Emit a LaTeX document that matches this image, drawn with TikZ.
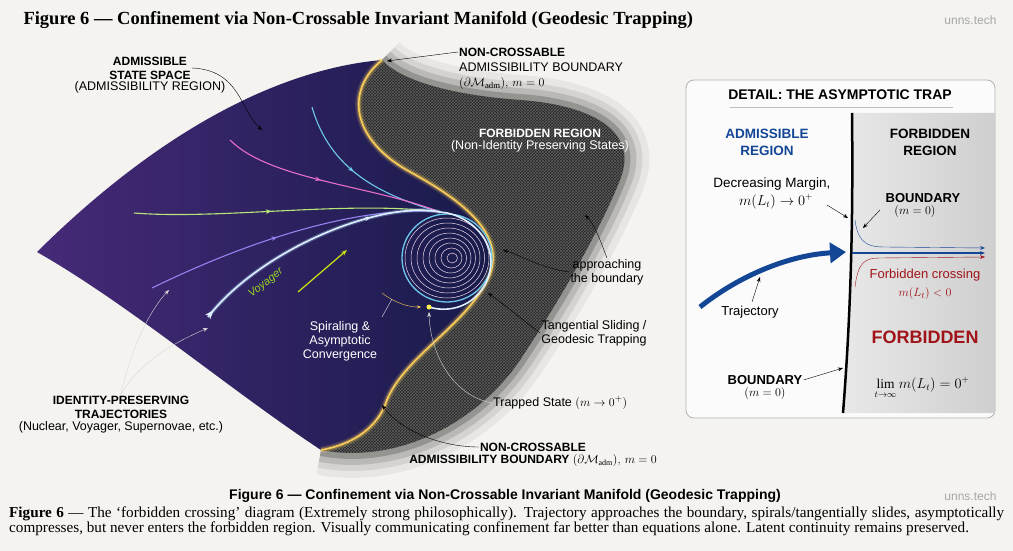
\documentclass[tikz,border=0pt]{standalone}
\usepackage{fontspec}
\setmainfont{Liberation Serif}
\setsansfont{Liberation Sans}
\usepackage{amsmath}
\usetikzlibrary{arrows.meta,calc,decorations.markings,patterns,positioning}
\definecolor{paper}{RGB}{244,243,239}
\definecolor{sheetL}{RGB}{70,42,120}
\definecolor{sheetR}{RGB}{22,26,72}
\definecolor{gold}{RGB}{250,205,90}
\definecolor{trcyan}{RGB}{110,200,235}
\definecolor{trpink}{RGB}{230,110,200}
\definecolor{trgreen}{RGB}{185,230,120}
\definecolor{trpurple}{RGB}{150,130,240}
\definecolor{voyblue}{RGB}{170,215,255}
\definecolor{dblue}{RGB}{20,70,150}
\definecolor{dred}{RGB}{160,20,25}
\tikzset{
  lbl/.style={font=\sffamily\fontsize{12.5}{14}\selectfont, align=center, inner sep=1pt},
  lblb/.style={lbl, font=\sffamily\bfseries\fontsize{12}{14}\selectfont},
  callout/.style={-{Stealth[length=5pt]}, black, thin},
  wcallout/.style={-{Stealth[length=5pt]}, white!85!black, thin},
  traj/.style={line width=1.1pt, postaction={decorate}, decoration={markings,
      mark=at position 0.45 with {\arrow{Stealth[length=6pt]}}}},
}
\begin{document}
\begin{tikzpicture}[x=1pt,y=-1pt]
\fill[paper] (0,0) rectangle (1013,551);
\useasboundingbox (0,0) rectangle (1013,551);

% title and watermark
\node[anchor=west, font=\bfseries\fontsize{18.5}{20}\selectfont] (title) at (20,20)
  {Figure 6 --- Confinement via Non-Crossable Invariant Manifold (Geodesic Trapping)};
\node[anchor=east, font=\sffamily\fontsize{12}{13}\selectfont, text=gray!70] (wm1) at (1000,20) {unns.tech};
\node[anchor=east, font=\sffamily\fontsize{12}{13}\selectfont, text=gray!70] (wm2) at (1000,496) {unns.tech};

% forbidden region
\coordinate (btop) at (382,60);
\coordinate (bbot) at (321,450);
\foreach \w/\o in {50/0.05,36/0.08,24/0.12,12/0.2}{
  \draw[black, line width=\w pt, opacity=\o, line join=round]
    (btop) .. controls (400,80) and (450,95) .. (520,100) .. controls (590,105) and (640,130) .. (620,180)
    .. controls (600,230) and (560,300) .. (520,360) .. controls (480,420) and (400,465) .. (bbot);
}
\fill[black!85]
  (btop) .. controls (400,80) and (450,95) .. (520,100) .. controls (590,105) and (640,130) .. (620,180)
  .. controls (600,230) and (560,300) .. (520,360) .. controls (480,420) and (400,465) .. (bbot)
  .. controls (350,445) and (375,430) .. (385,405) .. controls (400,360) and (460,330) .. (486,283)
  .. controls (510,240) and (470,205) .. (412,173) .. controls (350,140) and (345,90) .. (btop);
\fill[pattern=crosshatch, pattern color=gray!45, opacity=0.35]
  (btop) .. controls (400,80) and (450,95) .. (520,100) .. controls (590,105) and (640,130) .. (620,180)
  .. controls (600,230) and (560,300) .. (520,360) .. controls (480,420) and (400,465) .. (bbot)
  .. controls (350,445) and (375,430) .. (385,405) .. controls (400,360) and (460,330) .. (486,283)
  .. controls (510,240) and (470,205) .. (412,173) .. controls (350,140) and (345,90) .. (btop);

% admissible sheet
\shade[left color=sheetL, right color=sheetR]
  (37,252) .. controls (150,140) and (270,70) .. (btop)
  .. controls (345,90) and (350,140) .. (412,173) .. controls (470,205) and (510,240) .. (486,283)
  .. controls (460,330) and (400,360) .. (385,405) .. controls (375,430) and (350,445) .. (bbot)
  .. controls (230,390) and (130,305) .. (37,252) -- cycle;

% glowing boundary
\foreach \w/\o in {7/0.15,4/0.3,1.6/1}{
  \draw[gold, line width=\w pt, opacity=\o]
    (btop) .. controls (345,90) and (350,140) .. (412,173) .. controls (470,205) and (510,240) .. (486,283)
    .. controls (460,330) and (400,360) .. (385,405) .. controls (375,430) and (350,445) .. (bbot);
}

% spiral
\coordinate (conv) at (440,212);
\foreach \r in {40,35,...,5}{
  \draw[white!85!violet, line width=0.5pt] ($(447,258)+({(40-\r)*0.15},0)$) ellipse ({\r*1.05} and \r);
}
\draw[trcyan, line width=1.3pt] (447,258) ellipse (45 and 44);

% trajectories
\draw[traj, trcyan] (312,107) .. controls (330,170) and (380,195) .. (conv);
\draw[traj, trpink] (230,140) .. controls (270,180) and (370,185) .. (conv);
\draw[traj, trgreen] (134,213) .. controls (220,220) and (350,200) .. (conv);
\draw[traj, trpurple] (152,288) .. controls (250,240) and (360,205) .. (conv);
\draw[voyblue, line width=4pt, opacity=0.3] (208,317) .. controls (260,250) and (380,200) .. (conv);
\draw[traj, white!60!voyblue, line width=1.6pt, decoration={markings, mark=at position 0.02 with {\arrow{Stealth[length=9pt]}}}]
  (208,317) .. controls (260,250) and (380,200) .. (conv)
  .. controls (470,214) and (505,245) .. (485,285) .. controls (470,310) and (445,312) .. (429,307);
\draw[-{Stealth[length=6pt]}, yellow!80!green, line width=1.2pt] (298,292) -- (347,250);
\fill[yellow!70!white] (429,307) circle (2.5pt);
\draw[-{Stealth[length=4pt]}, gold, thin] (382,293) .. controls (395,303) and (408,307) .. (421,307);
\node[rotate=38, font=\sffamily\itshape\fontsize{11}{12}\selectfont, text=yellow!60!green] (voy) at (266,283) {Voyager};

% labels on the main figure
\node[lblb] (adm) at (150,68) {ADMISSIBLE\\STATE SPACE};
\node[lbl, below=0pt of adm] (admsub) {(ADMISSIBILITY REGION)};
\draw[callout] (adm.east) .. controls (240,70) and (240,110) .. (262,130);

\node[lblb, anchor=west] (nctop) at (458,52) {NON-CROSSABLE};
\node[lbl, anchor=west] (nctop2) at (458,67) {ADMISSIBILITY BOUNDARY};
\node[lbl, anchor=west] (nctop3) at (458,84) {$(\partial\mathcal{M}_{\mathrm{adm}}),\, m=0$};
\draw[callout] (nctop.west) -- (387,61);

\node[lblb, text=white] (forb) at (540,133) {FORBIDDEN REGION};
\node[lbl, text=white, below=1pt of forb] (forbsub) {(Non-Identity Preserving States)};

\node[lbl] (appr) at (607,272) {approaching\\the boundary};
\draw[callout] (appr.west) .. controls (540,268) and (520,255) .. (503,250);
\draw[callout] (appr.north) .. controls (600,240) and (595,225) .. (585,215);

\node[lbl] (tang) at (594,333) {Tangential Sliding /\\Geodesic Trapping};
\draw[callout] (tang.west) .. controls (520,318) and (505,305) .. (488,293);

\node[lbl, anchor=west] (trap) at (492,403) {Trapped State $(m\to 0^{+})$};
\draw[wcallout] (trap.west) .. controls (450,395) and (430,350) .. (429,312);

\node[lbl, text=white] (spir) at (340,341) {Spiraling \&\\Asymptotic\\Convergence};
\draw[white!85!black, thin] (382,317) -- (392,299);

\node[lblb] (ident) at (121,407) {IDENTITY-PRESERVING\\TRAJECTORIES};
\node[lbl, below=1pt of ident] (identsub) {(Nuclear, Voyager, Supernovae, etc.)};
\draw[wcallout] (ident.north) .. controls (130,350) and (150,310) .. (169,290);
\draw[wcallout] (ident.north) .. controls (140,360) and (180,340) .. (208,328);

\node[lblb] (ncbot) at (533,447) {NON-CROSSABLE};
\node[lblb, below=1pt of ncbot] (ncbot2) {ADMISSIBILITY BOUNDARY $(\partial\mathcal{M}_{\mathrm{adm}}),\, m=0$};
\draw[callout] (ncbot.west) .. controls (440,447) and (400,430) .. (382,405);

% detail panel
\node[draw=gray!60, fill=white!97!gray, rounded corners=8pt, minimum width=309pt, minimum height=338pt,
  line width=0.8pt] (panel) at (840.5,249) {};
\begin{scope}
  \clip[rounded corners=8pt] (panel.north west) rectangle (panel.south east);
  \shade[left color=gray!18, right color=gray!38] (852,113) .. controls (853,200) and (852,300) .. (843,413)
    -- (996,413) -- (996,113) -- cycle;
\end{scope}
\node[lblb, font=\sffamily\bfseries\fontsize{14}{16}\selectfont] (dtitle) at (840,95) {DETAIL: THE ASYMPTOTIC TRAP};
\draw[gray!50] (730,107) -- (953,107);
\draw[black, line width=2.5pt] (852,113) .. controls (853,200) and (852,300) .. (843,413);

\node[lblb, text=dblue, font=\sffamily\bfseries\fontsize{13.5}{17}\selectfont] (dadm) at (767,142) {ADMISSIBLE\\REGION};
\node[lblb, font=\sffamily\bfseries\fontsize{13.5}{17}\selectfont] (dforb) at (930,142) {FORBIDDEN\\REGION};

\node[lbl, font=\sffamily\fontsize{13.5}{18}\selectfont] (margin) at (772,193) {Decreasing Margin,\\$\;\;m(L_t)\to 0^{+}$};
\draw[callout] (827,205) -- (848,218);

\node[lblb, font=\sffamily\bfseries\fontsize{13}{15}\selectfont] (dbd1) at (923,198) {BOUNDARY};
\node[lbl, below=0pt of dbd1, xshift=-8pt] (dbd1b) {$(m=0)$};
\draw[callout] (880,210) -- (863,228);

\coordinate (dend1) at (985,248);
\coordinate (dend2) at (985,253);
\coordinate (dend3) at (985,257);
\draw[-{Stealth[length=5pt]}, dblue, thin] (855,220) .. controls (858,245) and (870,247) .. (885,247) -- (dend1);
\draw[dblue, line width=5pt, -{Triangle[length=16pt,width=20pt]}] (700,307) .. controls (740,275) and (790,255) .. (846,252);
\draw[-{Stealth[length=5pt]}, dblue, line width=1.4pt] (852,253) -- (dend2);
\draw[-{Stealth[length=5pt]}, dred, thin] (855,287) .. controls (858,262) and (865,258) .. (880,258) -- (dend3);

\node[lbl, text=dred, font=\sffamily\fontsize{13}{18}\selectfont] (fcross) at (925,284) {Forbidden crossing\\$m(L_t)<0$};
\node[lblb, text=dred, font=\sffamily\bfseries\fontsize{18}{20}\selectfont] (dforbbig) at (925,337) {FORBIDDEN};

\node[lbl, font=\sffamily\fontsize{13}{15}\selectfont] (dtraj) at (750,312) {Trajectory};
\draw[callout] (752,302) -- (760,277);

\node[lblb, font=\sffamily\bfseries\fontsize{13}{15}\selectfont] (dbd2) at (765,380) {BOUNDARY};
\node[lbl, below=0pt of dbd2] (dbd2b) {$(m=0)$};
\draw[callout] (dbd2.east) -- (843,368);

\node[lbl, font=\sffamily\fontsize{13.5}{15}\selectfont] (limit) at (922,388) {$\displaystyle\lim_{t\to\infty} m(L_t)=0^{+}$};

% captions
\node[font=\sffamily\bfseries\fontsize{14}{16}\selectfont] (cap1) at (505,496)
  {Figure 6 --- Confinement via Non-Crossable Invariant Manifold (Geodesic Trapping)};
\node[anchor=north west, text width=995pt, align=justify, inner sep=0pt,
  font=\fontsize{15.2}{14.5}\selectfont] (cap2) at (9,507)
  {\textbf{Figure 6} --- The `forbidden crossing' diagram (Extremely strong philosophically). Trajectory approaches the boundary, spirals/tangentially slides, asymptotically compresses, but never enters the forbidden region. Visually communicating confinement far better than equations alone. Latent continuity remains preserved.};
\end{tikzpicture}
\end{document}
